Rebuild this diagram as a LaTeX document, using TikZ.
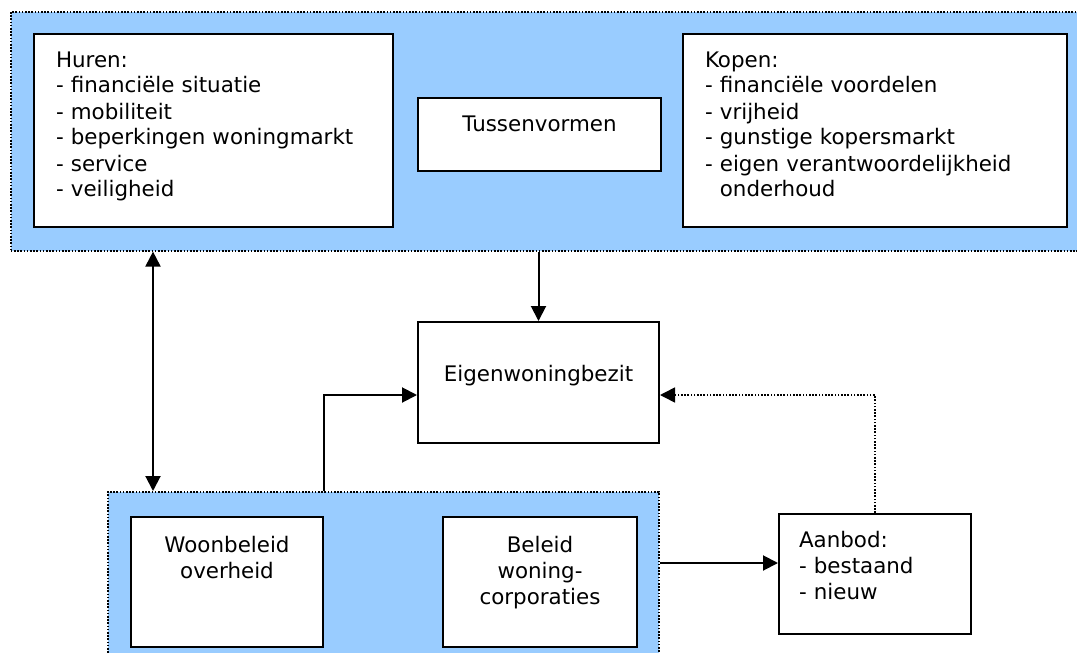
\documentclass[tikz,border=0pt]{standalone}
\usepackage{fontspec}
\setmainfont{DejaVu Sans}
\usetikzlibrary{arrows.meta,positioning,calc}
\definecolor{PanelBlue}{HTML}{99CCFF}
\tikzset{>={Triangle[length=7.5pt,width=7.5pt]},every node/.style={font=\fontsize{10.7}{13}\selectfont},
 panel/.style={draw,fill=PanelBlue,line width=0.8pt,dash pattern=on 0.8pt off 0.8pt,
 anchor=north west,inner sep=0pt},vak/.style={draw,fill=white,line width=1pt,anchor=north west,
 inner xsep=11pt,inner ysep=4pt},lijst/.style={vak,align=left,text height=12.5pt,text depth=76pt},
 pijl/.style={->,line width=1pt}}
\begin{document}
\begin{tikzpicture}[x=0.5pt,y=-0.5pt]
\useasboundingbox (0,0) rectangle (1077,653);
\node[panel,minimum width=537pt,minimum height=119.5pt] (keuze) at (10,11) {};
\node[panel,minimum width=275.5pt,minimum height=84.5pt] (beleid) at (107,491) {};
\node[lijst,text width=157.5pt] (huren) at (33,33) {Huren:\\- financiële situatie\\- mobiliteit\\
 - beperkingen woningmarkt\\- service\\- veiligheid};
\node[lijst,text width=170pt] (kopen) at (682,33) {Kopen:\\- financiële voordelen\\- vrijheid\\
 - gunstige kopersmarkt\\- eigen verantwoordelijkheid\\\hphantom{- }onderhoud};
\node[vak,align=center,text width=99.5pt,text height=12.5pt,text depth=16pt] (tussen) at (417,97) {Tussenvormen};
\node[vak,align=center,text width=98.5pt,text height=25.5pt,text depth=27pt] (eig) at (417,321) {Eigenwoningbezit};
\node[vak,align=center,text width=74pt,text height=13.75pt,text depth=43.25pt] (woon) at (130,516) {Woonbeleid\\overheid};
\node[vak,align=center,text width=75pt,text height=13.75pt,text depth=43.25pt] (corp) at (442,516) {Beleid\\woning-\\corporaties};
\node[vak,align=left,inner xsep=10pt,text width=76pt,text height=12.5pt,text depth=39.5pt] (aanbod) at (778,513) {Aanbod:\\- bestaand\\- nieuw};
\coordinate (as) at (153,370);
% verbindingen
\draw[pijl,<->] (keuze.south -| as) -- (beleid.north -| as);
\draw[pijl] (keuze.south -| eig) -- (eig);
\draw[pijl] (beleid.north -| woon.east) |- ([yshift=-6.25pt]eig.west);
\draw[pijl,line width=0.8pt,dash pattern=on 0.8pt off 0.8pt] (aanbod.north) |- ([yshift=-6.25pt]eig.east);
\draw[pijl] ([yshift=5.5pt]aanbod.west -| beleid.east) -- ([yshift=5.5pt]aanbod.west);
\end{tikzpicture}
\end{document}
